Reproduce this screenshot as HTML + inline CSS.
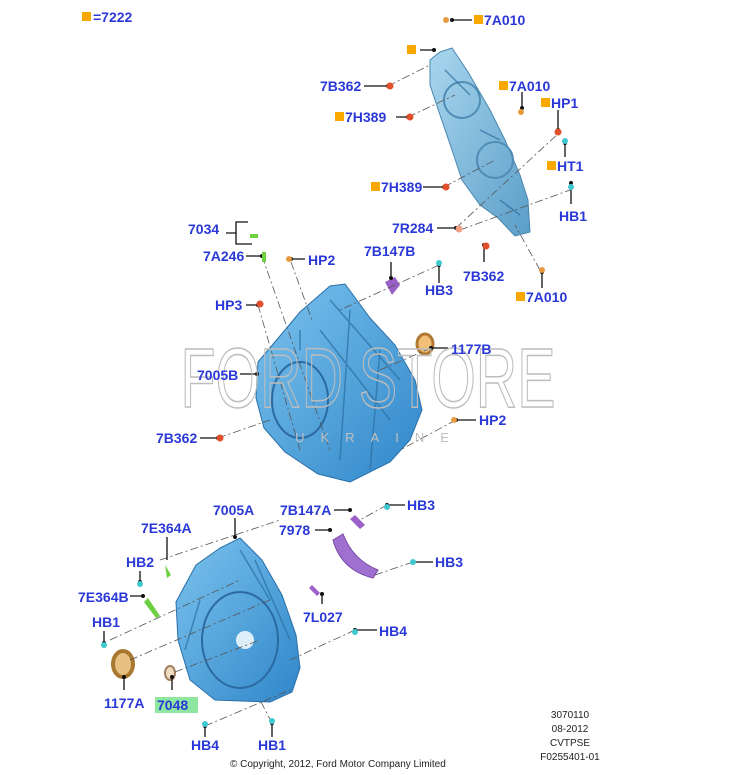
<!DOCTYPE html>
<html><head><meta charset="utf-8"><style>
html,body{margin:0;padding:0;background:#fff;}
svg{display:block;}
.l{font-family:"Liberation Sans",sans-serif;font-weight:bold;font-size:14px;fill:#2a38d8;}
.s{font-family:"Liberation Sans",sans-serif;font-size:10px;fill:#222;}
.k{stroke:#111;stroke-width:1.3;fill:none;}
.d{stroke:#555;stroke-width:0.8;stroke-dasharray:8 3 2 3;fill:none;}
.t{stroke:#2a6ea0;stroke-width:1.5;fill:none;opacity:0.7;}
</style></head><body>
<svg width="749" height="775" viewBox="0 0 749 775" xmlns="http://www.w3.org/2000/svg">
<defs>
<linearGradient id="g" x1="0" y1="0" x2="1" y2="1"><stop offset="0" stop-color="#7cc3ee"/><stop offset="1" stop-color="#2f86c9"/></linearGradient>
<linearGradient id="g2" x1="0" y1="0" x2="1" y2="1"><stop offset="0" stop-color="#a9d6ee"/><stop offset="1" stop-color="#5a9ec8"/></linearGradient>
</defs>
<rect x="82" y="12" width="9" height="9" fill="#f9a800"/><text class="l" x="93" y="22">=7222</text>

<!-- top cover -->
<polygon points="430,60 440,52 452,48 468,72 490,110 505,140 520,175 528,200 530,232 515,236 498,218 480,205 462,180 452,150 440,115 430,85" fill="url(#g2)" stroke="#4a88b0" stroke-width="1"/>
<circle cx="462" cy="100" r="18" fill="none" stroke="#4f8db6" stroke-width="2"/>
<circle cx="495" cy="160" r="18" fill="none" stroke="#4f8db6" stroke-width="2"/>
<path class="t" d="M445,70 L470,95 M480,130 L500,140 M500,200 L520,215"/>
<!-- main housing 7005B -->
<polygon points="258,362 285,330 300,312 330,286 345,284 370,318 395,345 415,380 422,410 410,440 390,462 350,482 318,474 285,452 264,428 256,398" fill="url(#g)" stroke="#2a6ea8" stroke-width="1"/>
<ellipse cx="300" cy="400" rx="28" ry="38" fill="none" stroke="#2b6aa0" stroke-width="2"/>
<path class="t" d="M330,300 L400,380 M320,330 L390,420 M350,310 L340,460 M380,350 L370,470 M300,330 L300,350"/>
<!-- bottom housing 7005A -->
<polygon points="176,602 196,565 220,548 240,538 262,560 282,595 296,635 300,668 292,692 270,702 215,700 190,680 178,640" fill="url(#g)" stroke="#2a6ea8" stroke-width="1"/>
<ellipse cx="240" cy="640" rx="38" ry="48" fill="none" stroke="#2b6aa0" stroke-width="2"/>
<circle cx="245" cy="640" r="9" fill="#dfeffa"/>
<path class="t" d="M240,550 L270,600 M255,560 L290,640 M200,600 L185,650"/>
<!-- purple parts -->
<path d="M385,282 l10,-5 5,8 -8,10 z" fill="#9b5fc8"/>
<path d="M333,540 q8,30 40,38 l5,-8 q-25,-10 -35,-36 z" fill="#a070d0" stroke="#7a4aa8"/>
<path d="M355,515 l10,10 -5,4 -10,-10 z" fill="#9b5fc8"/>
<path d="M312,585 l8,8 -3,3 -8,-8 z" fill="#9b5fc8"/>
<!-- seals -->
<ellipse cx="425" cy="344" rx="8" ry="10" fill="#f0c078" stroke="#b07830" stroke-width="3"/>
<ellipse cx="123" cy="664" rx="10" ry="13" fill="#e8c080" stroke="#a87830" stroke-width="4"/>
<ellipse cx="170" cy="673" rx="5" ry="7" fill="#f0dcc0" stroke="#a08060" stroke-width="2"/>
<path class="d" d="M388,86 L430,65 M408,117 L455,95 M444,187 L495,160 M456,228 L560,132 M460,230 L570,190 M540,270 L515,225 M262,256 L330,450 M291,262 L312,320 M258,305 L300,450 M218,438 L270,420 M456,420 L400,450 M431,348 L380,370 M439,265 L340,310 M160,560 L280,520 M110,640 L240,580 M130,660 L270,600 M175,672 L260,640 M355,630 L290,660 M205,726 L290,690 M272,723 L260,700 M387,505 L360,520 M413,562 L375,575"/>
<g class="k">
<path d="M452,20 H472 M420,50 H434 M364,86 H388 M396,117 H408 M522,92 V108 M558,110 V130 M565,143 V157 M423,187 H444 M571,183 V204 M437,228 H456 M484,245 V262 M542,272 V288 M226,233 H236 V222 H248 M236,233 V244 H252 M246,256 H262 M291,259 H305 M391,262 V278 M439,265 V283 M246,305 H258 M431,348 H448 M240,374 H257 M200,438 H218 M456,420 H476 M235,518 V537 M334,510 H350 M387,505 H405 M315,530 H330 M167,537 V560 M140,571 V582 M413,562 H433 M130,596 H143 M104,631 V643 M322,594 V604 M355,630 H377 M124,677 V690 M172,677 V690 M205,726 V737 M272,723 V737"/>
</g>
<g fill="#111">
<circle cx="452" cy="20" r="2"/><circle cx="434" cy="50" r="2"/><circle cx="388" cy="86" r="2"/><circle cx="408" cy="117" r="2"/><circle cx="522" cy="108" r="2"/><circle cx="558" cy="130" r="2"/><circle cx="565" cy="143" r="2"/><circle cx="444" cy="187" r="2"/><circle cx="571" cy="183" r="2"/><circle cx="456" cy="228" r="2"/><circle cx="484" cy="245" r="2"/><circle cx="542" cy="272" r="2"/><circle cx="262" cy="256" r="2"/><circle cx="291" cy="259" r="2"/><circle cx="391" cy="278" r="2"/><circle cx="439" cy="265" r="2"/><circle cx="258" cy="305" r="2"/><circle cx="431" cy="348" r="2"/><circle cx="257" cy="374" r="2"/><circle cx="218" cy="438" r="2"/><circle cx="456" cy="420" r="2"/><circle cx="235" cy="537" r="2"/><circle cx="350" cy="510" r="2"/><circle cx="387" cy="505" r="2"/><circle cx="330" cy="530" r="2"/><circle cx="140" cy="582" r="2"/><circle cx="413" cy="562" r="2"/><circle cx="143" cy="596" r="2"/><circle cx="104" cy="643" r="2"/><circle cx="322" cy="594" r="2"/><circle cx="355" cy="630" r="2"/><circle cx="124" cy="677" r="2"/><circle cx="172" cy="677" r="2"/><circle cx="205" cy="726" r="2"/><circle cx="272" cy="723" r="2"/>
</g>
<g fill="#e0502a"><circle cx="390" cy="86" r="3.5"/><circle cx="410" cy="117" r="3.5"/><circle cx="446" cy="187" r="3.5"/><circle cx="486" cy="246" r="3.5"/><circle cx="260" cy="304" r="3.5"/><circle cx="220" cy="438" r="3.5"/><circle cx="558" cy="132" r="3.5"/></g>
<g fill="#e89a40"><circle cx="446" cy="20" r="3"/><circle cx="542" cy="270" r="3"/><circle cx="521" cy="112" r="3"/><circle cx="289" cy="259" r="3"/><circle cx="454" cy="420" r="3"/><circle cx="459" cy="229" r="3.5" fill="#f0a080"/></g>
<g fill="#40c8d0"><circle cx="565" cy="141" r="3"/><circle cx="571" cy="187" r="3"/><circle cx="439" cy="263" r="3"/><circle cx="387" cy="507" r="3"/><circle cx="413" cy="562" r="3"/><circle cx="140" cy="584" r="3"/><circle cx="104" cy="645" r="3"/><circle cx="355" cy="632" r="3"/><circle cx="205" cy="724" r="3"/><circle cx="272" cy="721" r="3"/></g>
<g fill="#6cd040"><rect x="250" y="234" width="8" height="4"/><rect x="262" y="252" width="4" height="10"/><path d="M165,565 l6,10 -4,3 z"/><path d="M148,598 l12,18 -4,2 -12,-16 z"/></g>
<text x="368" y="407" text-anchor="middle" font-family="Liberation Sans,sans-serif" font-size="84" fill="none" stroke="#bdbdbd" stroke-width="1.5" textLength="375" lengthAdjust="spacingAndGlyphs">FORD STORE</text>
<text x="380" y="442" text-anchor="middle" font-family="Liberation Sans,sans-serif" font-size="13" fill="#c0c0c0" letter-spacing="16">UKRAINE</text>
<rect x="474" y="15" width="9" height="9" fill="#f9a800"/><text class="l" x="484" y="25">7A010</text>
<rect x="407" y="45" width="9" height="9" fill="#f9a800"/>
<text class="l" x="320" y="91">7B362</text>
<rect x="335" y="112" width="9" height="9" fill="#f9a800"/><text class="l" x="345" y="122">7H389</text>
<rect x="499" y="81" width="9" height="9" fill="#f9a800"/><text class="l" x="509" y="91">7A010</text>
<rect x="541" y="98" width="9" height="9" fill="#f9a800"/><text class="l" x="551" y="108">HP1</text>
<rect x="547" y="161" width="9" height="9" fill="#f9a800"/><text class="l" x="557" y="171">HT1</text>
<rect x="371" y="182" width="9" height="9" fill="#f9a800"/><text class="l" x="381" y="192">7H389</text>
<text class="l" x="559" y="221">HB1</text>
<text class="l" x="392" y="233">7R284</text>
<text class="l" x="463" y="281">7B362</text>
<rect x="516" y="292" width="9" height="9" fill="#f9a800"/><text class="l" x="526" y="302">7A010</text>
<text class="l" x="188" y="234">7034</text>
<text class="l" x="203" y="261">7A246</text>
<text class="l" x="308" y="265">HP2</text>
<text class="l" x="364" y="256">7B147B</text>
<text class="l" x="425" y="295">HB3</text>
<text class="l" x="215" y="310">HP3</text>
<text class="l" x="451" y="354">1177B</text>
<text class="l" x="197" y="380">7005B</text>
<text class="l" x="156" y="443">7B362</text>
<text class="l" x="479" y="425">HP2</text>
<text class="l" x="213" y="515">7005A</text>
<text class="l" x="280" y="515">7B147A</text>
<text class="l" x="407" y="510">HB3</text>
<text class="l" x="279" y="535">7978</text>
<text class="l" x="141" y="533">7E364A</text>
<text class="l" x="126" y="567">HB2</text>
<text class="l" x="435" y="567">HB3</text>
<text class="l" x="78" y="602">7E364B</text>
<text class="l" x="92" y="627">HB1</text>
<text class="l" x="303" y="622">7L027</text>
<text class="l" x="379" y="636">HB4</text>
<text class="l" x="104" y="708">1177A</text>
<rect x="155" y="697" width="43" height="16" fill="#8ee6a0"/><text class="l" x="157" y="710">7048</text>
<text class="l" x="191" y="750">HB4</text>
<text class="l" x="258" y="750">HB1</text>
<text class="s" x="570" y="718" text-anchor="middle">3070110</text>
<text class="s" x="570" y="732" text-anchor="middle">08-2012</text>
<text class="s" x="570" y="746" text-anchor="middle">CVTPSE</text>
<text class="s" x="570" y="760" text-anchor="middle">F0255401-01</text>
<text class="s" x="230" y="767">© Copyright, 2012, Ford Motor Company Limited</text>
</svg>
</body></html>
